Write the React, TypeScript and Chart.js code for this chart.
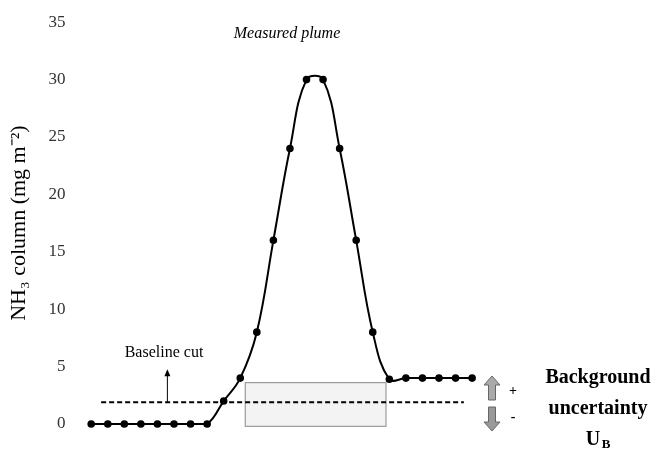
import { useEffect, useRef } from 'react'
import { Chart, registerables } from 'chart.js'
Chart.register(...registerables)

const sampleIndex = [0, 1, 2, 3, 4, 5, 6, 7, 8, 9, 10, 11, 12, 13, 14, 15, 16, 17, 18, 19, 20, 21, 22, 23]
const nh3Column = [0, 0, 0, 0, 0, 0, 0, 0, 2, 4, 8, 16, 24, 30, 30, 24, 16, 8, 3.9, 4, 4, 4, 4, 4]
const yTicks = [0, 5, 10, 15, 20, 25, 30, 35]
const baselineCut = 1.9
const baselineFrom = 0.6
const baselineTo = 22.5
const boxFrom = 9.3
const boxTo = 17.8
const boxTop = 3.6
const boxBottom = -0.2

const serif = '"Liberation Serif", "Times New Roman", serif'

const annotations = {
  id: 'annotations',
  beforeDatasetsDraw(chart: Chart) {
    const ctx = chart.ctx
    const x = chart.scales.x
    const y = chart.scales.y
    ctx.save()
    // background uncertainty box
    const bx1 = x.getPixelForValue(boxFrom)
    const bx2 = x.getPixelForValue(boxTo)
    const by1 = y.getPixelForValue(boxTop)
    const by2 = y.getPixelForValue(boxBottom)
    ctx.fillStyle = 'rgba(235,235,235,0.6)'
    ctx.fillRect(bx1, by1, bx2 - bx1, by2 - by1)
    ctx.strokeStyle = '#888'
    ctx.lineWidth = 1
    ctx.strokeRect(bx1, by1, bx2 - bx1, by2 - by1)
    ctx.restore()
  },
  afterDatasetsDraw(chart: Chart) {
    const ctx = chart.ctx
    const x = chart.scales.x
    const y = chart.scales.y
    ctx.save()
    // baseline cut
    const ly = y.getPixelForValue(baselineCut)
    ctx.strokeStyle = '#000'
    ctx.lineWidth = 2
    ctx.setLineDash([5, 3])
    ctx.beginPath()
    ctx.moveTo(x.getPixelForValue(baselineFrom), ly)
    ctx.lineTo(x.getPixelForValue(baselineTo), ly)
    ctx.stroke()
    ctx.setLineDash([])
    // small arrow
    const ax = x.getPixelForValue(4.6)
    ctx.lineWidth = 1
    ctx.beginPath()
    ctx.moveTo(ax, ly)
    ctx.lineTo(ax, ly - 30)
    ctx.stroke()
    ctx.beginPath()
    ctx.moveTo(ax - 3, ly - 26)
    ctx.lineTo(ax, ly - 33)
    ctx.lineTo(ax + 3, ly - 26)
    ctx.fillStyle = '#000'
    ctx.fill()
    ctx.font = `16px ${serif}`
    ctx.textAlign = 'center'
    ctx.textBaseline = 'middle'
    ctx.fillText('Baseline cut', 164, 353)
    ctx.font = `italic 16px ${serif}`
    ctx.fillText('Measured plume', 287, 34)
    // up/down arrows
    const drawArrow = (cx: number, tipY: number, baseY: number, col: string) => {
      const dir = Math.sign(baseY - tipY)
      ctx.beginPath()
      ctx.moveTo(cx, tipY)
      ctx.lineTo(cx + 8, tipY + dir * 9)
      ctx.lineTo(cx + 3.5, tipY + dir * 9)
      ctx.lineTo(cx + 3.5, baseY)
      ctx.lineTo(cx - 3.5, baseY)
      ctx.lineTo(cx - 3.5, tipY + dir * 9)
      ctx.lineTo(cx - 8, tipY + dir * 9)
      ctx.closePath()
      ctx.fillStyle = col
      ctx.fill()
      ctx.strokeStyle = '#666'
      ctx.lineWidth = 1
      ctx.stroke()
    }
    drawArrow(492, 376, 400, '#aaa')
    drawArrow(492, 431, 407, '#999')
    ctx.fillStyle = '#000'
    ctx.font = `bold 14px ${serif}`
    ctx.fillText('+', 513, 391)
    ctx.fillText('-', 513, 417)
    ctx.font = `bold 20px ${serif}`
    ctx.fillText('Background', 598, 378)
    ctx.fillText('uncertainty', 598, 409)
    ctx.fillText('U', 593, 440)
    ctx.font = `bold 13px ${serif}`
    ctx.fillText('B', 606, 445)
    ctx.restore()
  },
}

export default function App() {
  const ref = useRef<HTMLCanvasElement>(null)
  useEffect(() => {
    if (!ref.current) return
    const chart = new Chart(ref.current, {
      type: 'line',
      data: {
        datasets: [
          {
            data: sampleIndex.map((i, k) => ({ x: i, y: nh3Column[k] })),
            borderColor: '#000',
            backgroundColor: '#000',
            borderWidth: 2,
            pointRadius: 2.8,
            tension: 0.4,
            clip: false,
          },
        ],
      },
      options: {
        animation: false,
        responsive: false,
        layout: { padding: { top: 14, bottom: 30, left: 2 } },
        plugins: { legend: { display: false }, tooltip: { enabled: false } },
        scales: {
          x: { type: 'linear', min: -0.35, max: 33.8, display: false },
          y: {
            min: 0,
            max: 35,
            afterBuildTicks: (axis) => {
              axis.ticks = yTicks.map((v) => ({ value: v }))
            },
            grid: { display: false },
            border: { display: false },
            ticks: { color: '#333', font: { family: serif, size: 17 }, padding: 12 },
            title: {
              display: true,
              text: 'NH\u2083 column (mg m\u207B\u00B2)',
              color: '#000',
              font: { family: serif, size: 22 },
            },
          },
        },
      },
      plugins: [annotations],
    })
    return () => chart.destroy()
  }, [])
  return (
    <div style={{ position: 'fixed', left: 0, top: 0 }}>
      <canvas ref={ref} width={657} height={454} />
    </div>
  )
}
